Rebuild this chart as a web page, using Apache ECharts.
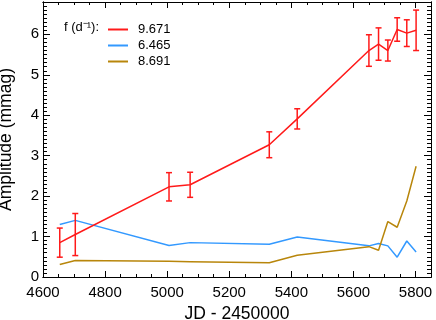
<!DOCTYPE html>
<html><head><meta charset="utf-8">
<script src="https://cdn.jsdelivr.net/npm/echarts@6/dist/echarts.min.js"></script>
<style>html,body{margin:0;padding:0;background:#fff}#c{width:436px;height:320px}</style>
</head><body><div id="c"></div>
<script>
// Epochs (JD - 2450000)
const jd = [4654, 4704, 5006, 5074, 5329, 5419, 5650, 5681, 5711, 5741, 5772, 5802];
// f = 9.671 d^-1
const ampA = [0.85, 1.05, 2.23, 2.28, 3.27, 3.91, 5.60, 5.76, 5.60, 6.12, 6.03, 6.10];
const errA = [0.36, 0.52, 0.35, 0.31, 0.32, 0.25, 0.39, 0.40, 0.26, 0.29, 0.33, 0.50];
// f = 6.465 d^-1
const ampB = [1.30, 1.40, 0.78, 0.85, 0.81, 0.99, 0.77, 0.83, 0.77, 0.49, 0.89, 0.62];
// f = 8.691 d^-1
const ampC = [0.31, 0.41, 0.39, 0.38, 0.35, 0.54, 0.75, 0.66, 1.37, 1.23, 1.88, 2.74];
const names = ['9.671', '6.465', '8.691'];
const xTicks = [4600, 4800, 5000, 5200, 5400, 5600, 5800];
const yTicks = [0, 1, 2, 3, 4, 5, 6];

const RED = '#ff1a1a', BLUE = '#3399ff', GOLD = '#b8860b';
const FONT = 'Liberation Sans';
const XMIN = 4600, XMAX = 5850, YMIN = 0, YMAX = 6.8;

function xa(opts) {
  return Object.assign({
    type: 'value', min: XMIN, max: XMAX, gridIndex: 0,
    axisLine: {show: true, onZero: false, lineStyle: {color: '#000', width: 1}},
    splitLine: {show: false},
    axisLabel: {show: false}
  }, opts);
}
function ya(opts) {
  return Object.assign({
    type: 'value', min: YMIN, max: YMAX, gridIndex: 0,
    axisLine: {show: true, onZero: false, lineStyle: {color: '#000', width: 1}},
    splitLine: {show: false},
    axisLabel: {show: false}
  }, opts);
}

const chart = echarts.init(document.getElementById('c'), null, {renderer: 'canvas'});
const pairs = arr => jd.map((x, i) => [x, arr[i]]);

chart.setOption({
  animation: false,
  grid: {left: 43, right: 5, top: 2, bottom: 43, containLabel: false, outerBoundsMode: 'none'},
  textStyle: {fontFamily: FONT},
  xAxis: [
    xa({position: 'bottom', interval: 200,
        axisTick: {show: true, inside: true, length: 6, lineStyle: {color: '#000'}},
        axisLabel: {show: true, color: '#000', fontSize: 15, fontFamily: FONT, margin: 8,
          formatter: v => xTicks.includes(v) ? String(v) : ''},
        name: 'JD - 2450000', nameLocation: 'middle', nameGap: 24,
        nameTextStyle: {color: '#000', fontSize: 17.5, fontFamily: FONT}}),
    xa({position: 'bottom', interval: 50,
        axisTick: {show: true, inside: true, length: 3, lineStyle: {color: '#000'}}}),
    xa({position: 'top', interval: 200,
        axisTick: {show: true, inside: true, length: 6, lineStyle: {color: '#000'}}}),
    xa({position: 'top', interval: 50,
        axisTick: {show: true, inside: true, length: 3, lineStyle: {color: '#000'}}})
  ],
  yAxis: [
    ya({position: 'left', interval: 1,
        axisTick: {show: true, inside: true, length: 7, lineStyle: {color: '#000'}},
        axisLabel: {show: true, color: '#000', fontSize: 15, fontFamily: FONT, margin: 4,
          formatter: v => yTicks.includes(v) ? String(v) : ''},
        name: 'Amplitude (mmag)', nameLocation: 'middle', nameGap: 28, nameRotate: 90,
        nameTextStyle: {color: '#000', fontSize: 17.5, fontFamily: FONT}}),
    ya({position: 'left', interval: 0.1,
        axisTick: {show: true, inside: true, length: 4, lineStyle: {color: '#000'}}}),
    ya({position: 'right', interval: 1,
        axisTick: {show: true, inside: true, length: 7, lineStyle: {color: '#000'}}}),
    ya({position: 'right', interval: 0.1,
        axisTick: {show: true, inside: true, length: 4, lineStyle: {color: '#000'}}})
  ],
  legend: {
    orient: 'vertical', left: 103, top: 18, itemWidth: 20, itemHeight: 2, itemGap: 3,
    icon: 'rect', data: names,
    textStyle: {color: '#000', fontSize: 13, fontFamily: FONT, padding: [0, 0, 0, 5]}
  },
  graphic: [{
    type: 'text', left: 64, top: 21,
    style: {text: 'f (d\u207B\u00B9):', font: '13px "Liberation Sans"', fill: '#000'}
  }],
  series: [
    {name: names[0], type: 'line', data: pairs(ampA), showSymbol: false, symbol: 'none',
     lineStyle: {color: RED, width: 1.5}, itemStyle: {color: RED}, z: 5},
    {name: names[1], type: 'line', data: pairs(ampB), showSymbol: false, symbol: 'none',
     lineStyle: {color: BLUE, width: 1.5}, itemStyle: {color: BLUE}, z: 3},
    {name: names[2], type: 'line', data: pairs(ampC), showSymbol: false, symbol: 'none',
     lineStyle: {color: GOLD, width: 1.5}, itemStyle: {color: GOLD}, z: 3},
    {type: 'custom', name: 'err', z: 6,
     data: jd.map((x, i) => [x, ampA[i], errA[i]]),
     encode: {x: 0, y: 1},
     renderItem: function (params, api) {
       const x = api.value(0), y = api.value(1), e = api.value(2);
       const t = api.coord([x, y + e]), b = api.coord([x, y - e]);
       const w = 3;
       const st = {stroke: RED, lineWidth: 1.5};
       return {type: 'group', children: [
         {type: 'line', shape: {x1: t[0], y1: t[1], x2: b[0], y2: b[1]}, style: st},
         {type: 'line', shape: {x1: t[0] - w, y1: t[1], x2: t[0] + w, y2: t[1]}, style: st},
         {type: 'line', shape: {x1: b[0] - w, y1: b[1], x2: b[0] + w, y2: b[1]}, style: st}
       ]};
     }}
  ]
});
</script></body></html>
